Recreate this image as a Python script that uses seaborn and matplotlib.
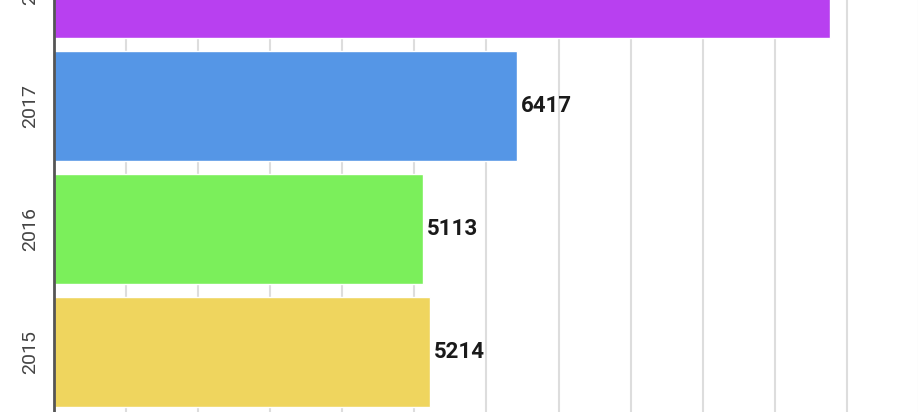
import matplotlib
matplotlib.use("Agg")
import matplotlib.pyplot as plt
from matplotlib.ticker import MultipleLocator
import seaborn as sns
import pandas as pd

years = ["2018", "2017", "2016", "2015"]
values = [10770, 6417, 5113, 5214]
colors = ["#b840f0", "#5596e6", "#7bef5b", "#efd55e"]

sns.set_style("white")
plt.rcParams["font.family"] = ["Roboto", "DejaVu Sans"]

df = pd.DataFrame({"year": years, "value": values})

fig = plt.figure(figsize=(9.18, 4.12), dpi=100)
# the chart is a crop of a taller one, so the axes run past the top and right edges
ax = fig.add_axes([54 / 918, -1.5 / 412, 865 / 918, 492 / 412])

sns.barplot(data=df, x="value", y="year", hue="year", palette=colors,
            orient="h", width=0.9, legend=False, saturation=1, ax=ax, zorder=2)

# the top bar's label sits above the crop, so only the visible ones get one
for cont in ax.containers[1:]:
    ax.bar_label(cont, padding=3, fontsize=16, fontweight="bold", color="#1a1a1a")

ax.set_xlim(0, 12000)
ax.xaxis.set_major_locator(MultipleLocator(1000))
ax.grid(axis="x", color="#dddddd", linewidth=1.5, zorder=0)
ax.set_axisbelow(True)
ax.set_xlabel("")
ax.set_ylabel("")
ax.set_xticklabels([])

for s in ["top", "right", "bottom"]:
    ax.spines[s].set_visible(False)
ax.spines["left"].set_color("#555555")
ax.spines["left"].set_linewidth(2)

ax.tick_params(axis="y", length=0, pad=11, labelsize=14, labelcolor="#444444")
ax.tick_params(axis="x", length=0)
for lbl in ax.get_yticklabels():
    lbl.set_rotation(90)
    lbl.set_va("center")

fig.savefig("out.png", dpi=100)
